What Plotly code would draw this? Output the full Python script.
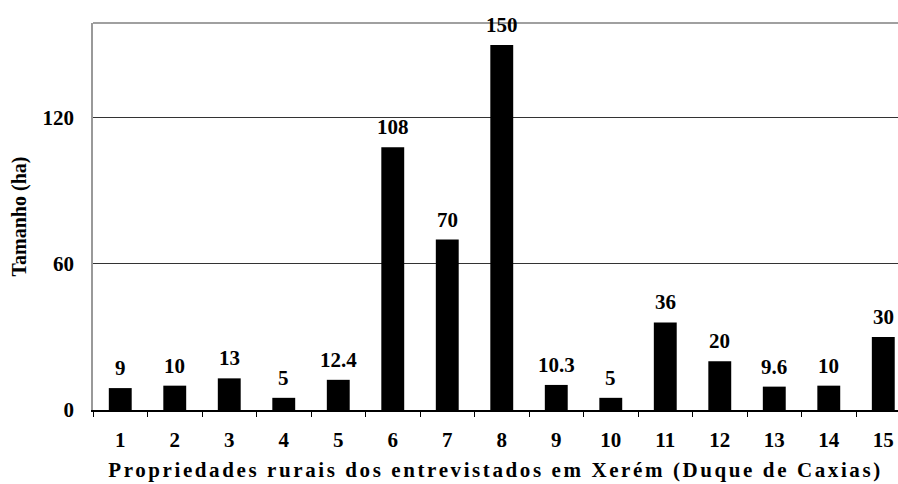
import plotly.graph_objects as go

# Dados: tamanho das propriedades (ha)
propriedades = [str(i) for i in range(1, 16)]
tamanho_ha = [9, 10, 13, 5, 12.4, 108, 70, 150, 10.3, 5, 36, 20, 9.6, 10, 30]
rotulos = ["9", "10", "13", "5", "12.4", "108", "70", "150", "10.3", "5", "36", "20", "9.6", "10", "30"]
y_ticks = [0, 60, 120]

FONTE = "Liberation Serif, Times New Roman, serif"

fig = go.Figure()
fig.add_trace(go.Bar(
    x=propriedades,
    y=tamanho_ha,
    marker=dict(color="black", line=dict(width=0)),
    width=0.42,
    hoverinfo="skip",
))

# rótulos de dados acima das barras (x = índice da categoria)
for i, (val, txt) in enumerate(zip(tamanho_ha, rotulos)):
    fig.add_annotation(
        x=i, y=val, xref="x", yref="y",
        text=txt,
        showarrow=False, yanchor="bottom", yshift=6,
        font=dict(family=FONTE, size=21, color="black", weight="bold"),
    )

# borda superior cinza
fig.add_shape(type="line", xref="paper", yref="paper", x0=0, x1=1, y0=1, y1=1,
              line=dict(color="#a0a0a0", width=2), layer="below")

fig.update_layout(
    width=898, height=484,
    paper_bgcolor="white", plot_bgcolor="white",
    margin=dict(l=93, r=0, t=23, b=74),
    showlegend=False,
    font=dict(family=FONTE, color="black"),
)

fig.update_xaxes(
    type="category",
    range=[-0.5, 14.27],
    automargin=False,
    showgrid=False,
    showline=True, linecolor="black", linewidth=1.5,
    ticks="outside", tickson="boundaries", ticklen=5, tickcolor="black", tickwidth=1,
    tickfont=dict(family=FONTE, size=21, color="black", weight="bold"),
    ticklabelstandoff=10,
    title=dict(text="Propriedades rurais dos entrevistados em Xerém (Duque de Caxias)",
               font=dict(family=FONTE, size=21, color="black", weight="bold"), standoff=11),
)

fig.update_yaxes(
    range=[0, 159],
    automargin=False,
    tickvals=y_ticks,
    showgrid=True, gridcolor="#333333", gridwidth=1,
    zeroline=False,
    showline=True, linecolor="#999999", linewidth=1.5,
    ticks="",
    tickfont=dict(family=FONTE, size=21, color="black", weight="bold"),
    ticklabelstandoff=13,
    title=dict(text="Tamanho (ha)",
               font=dict(family=FONTE, size=20, color="black", weight="bold"), standoff=11),
)

# sem margem no body; título do eixo x espaçado como no original
js = (
    "document.body.style.margin='0';document.body.style.overflow='hidden';"
    "var t=document.getElementById('{plot_id}').querySelector('.xtitle');"
    "if(t){t.style.letterSpacing='2.6px';}"
)
fig.write_html("out.html", post_script=js, config={"displayModeBar": False})
